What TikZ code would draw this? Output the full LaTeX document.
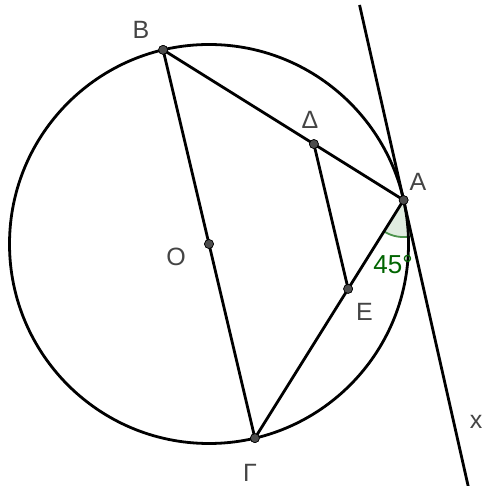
\documentclass[tikz,border=0pt]{standalone}
\usepackage{fontspec}
\setmainfont{Liberation Sans}
\usetikzlibrary{calc}
\definecolor{ptgray}{RGB}{77,77,77}
\definecolor{labgray}{RGB}{68,68,68}
\definecolor{anggreen}{RGB}{0,100,0}
\begin{document}
\begin{tikzpicture}[x=1pt,y=1pt,
  geo/.style={line width=2.8pt, draw=black},
  pt/.style={circle, fill=ptgray, draw=black, line width=0.6pt, inner sep=0pt, minimum size=9pt},
  lab/.style={text=labgray, font=\fontsize{25}{25}\selectfont, inner sep=0pt},
  anglab/.style={text=anggreen, font=\fontsize{26}{26}\selectfont, inner sep=0pt}]
\useasboundingbox (0,0) rectangle (483,486);
\clip (0,0) rectangle (483,486);
% construction points
\coordinate (Oc) at (209,242);
\coordinate (Bc) at ($(Oc)+(103.3:199.5)$);
\coordinate (Gc) at ($(Oc)+(283.3:199.5)$);
\coordinate (Ac) at ($(Oc)+(12.72:199.5)$);
\coordinate (Dc) at ($(Bc)!0.627!(Ac)$);
\coordinate (Ec) at ($(Gc)!0.627!(Ac)$);
\coordinate (T1) at ($(Ac)+(102.72:200)$);
\coordinate (T2) at ($(Ac)+(282.72:300)$);
% angle sector
\fill[anggreen, opacity=0.12] (Ac) -- ++(238:37) arc[start angle=238, end angle=282.72, radius=37] -- cycle;
\draw[anggreen!70, line width=1.8pt] ($(Ac)+(238:37)$) arc[start angle=238, end angle=282.72, radius=37];
% circle
\draw[geo] (Oc) circle[radius=199.5];
% points
\node[pt] (O) at (Oc) {};
\node[pt] (B) at (Bc) {};
\node[pt] (G) at (Gc) {};
\node[pt] (A) at (Ac) {};
\node[pt] (D) at (Dc) {};
\node[pt] (E) at (Ec) {};
% segments
\draw[geo] (T1) -- (A.center) -- (T2);
\draw[geo] (B.center) -- (O.center) -- (G.center);
\draw[geo] (B.center) -- (D.center) -- (A.center);
\draw[geo] (A.center) -- (E.center) -- (G.center);
\draw[geo] (D.center) -- (E.center);
% redraw points on top
\foreach \p in {O,B,G,A,D,E} \node[pt] at (\p) {};
% labels
\node[lab] (lB) at (141,456) {B};
\node[lab] (lD) at (310,366) {Δ};
\node[lab] (lA) at (418,304) {A};
\node[lab] (lO) at (176,229) {O};
\node[lab] (lE) at (364.5,174) {E};
\node[lab] (lG) at (250,13) {Γ};
\node[lab] (lx) at (476,64) {x};
\node[anglab] (ang) at (393,221) {45°};
\end{tikzpicture}
\end{document}
